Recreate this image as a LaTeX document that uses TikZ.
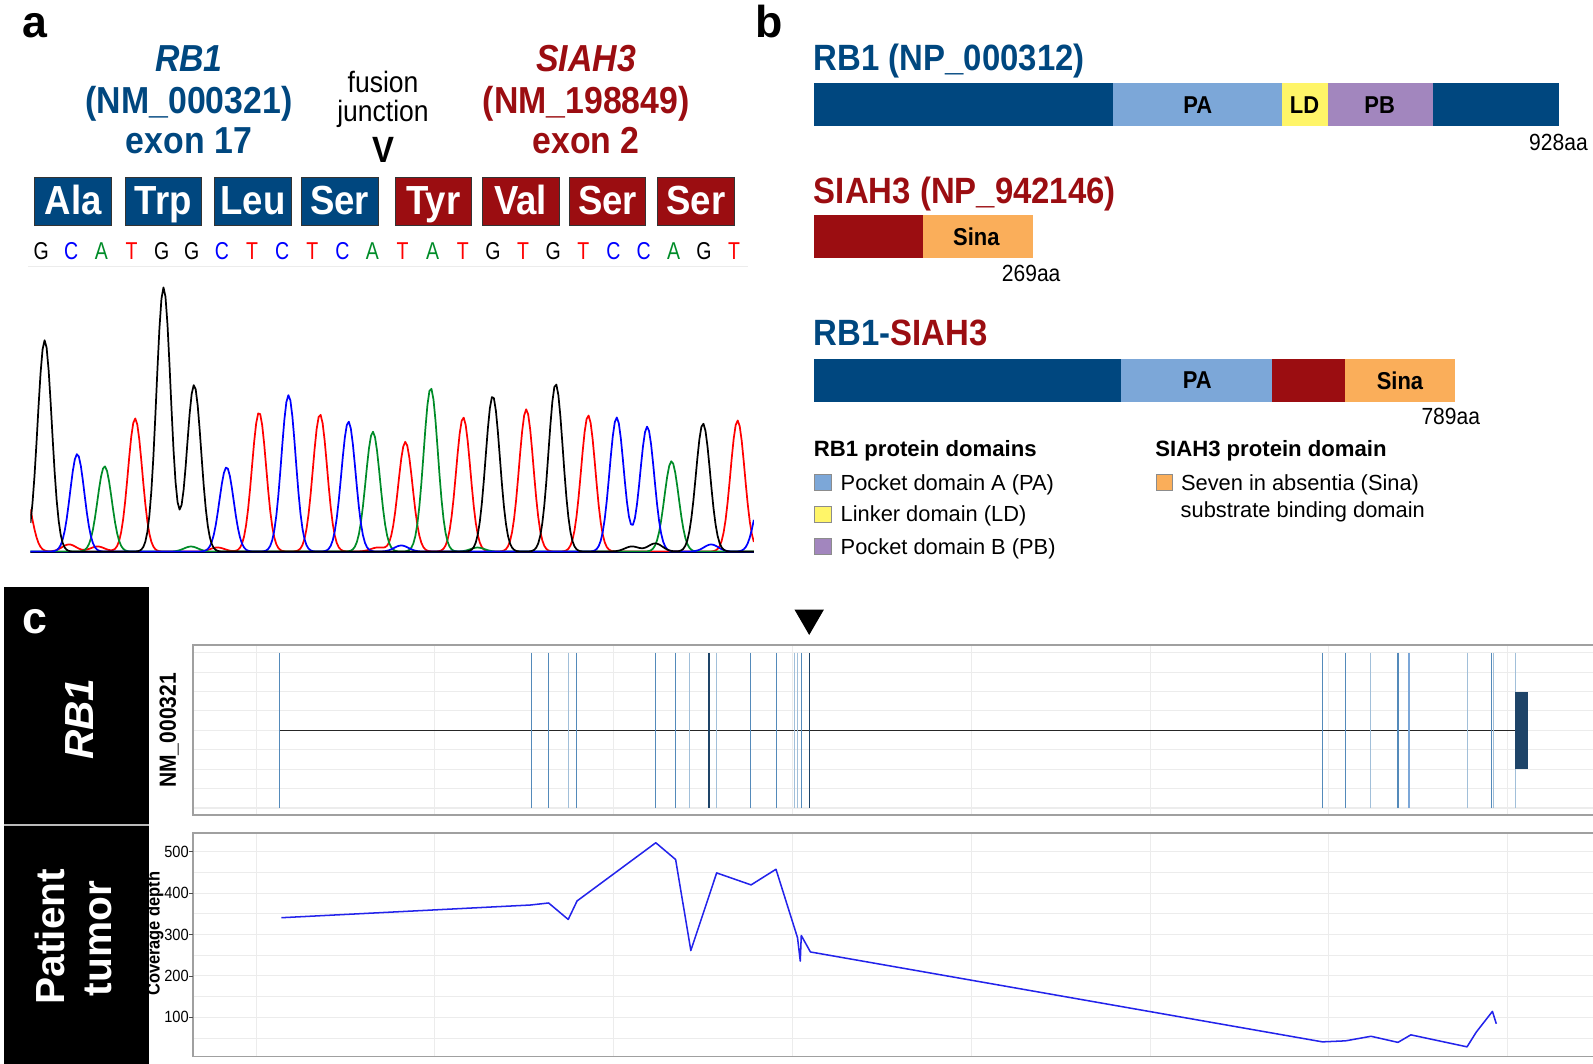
\documentclass[tikz,border=0pt]{standalone}
\usepackage{fontspec}
\setmainfont{Liberation Sans}
\newfontfamily\narrowsans[FakeStretch=0.9]{Liberation Sans}
\newfontfamily\seqsans[FakeStretch=0.8]{Liberation Sans}
\usetikzlibrary{positioning,calc}

\newcommand{\setsz}[1]{\fontsize{#1}{#1}\selectfont}

\definecolor{rbBlue}{RGB}{0,71,127}
\definecolor{siRed}{RGB}{155,13,17}
\definecolor{paBlue}{RGB}{124,167,216}
\definecolor{ldYellow}{RGB}{255,245,104}
\definecolor{pbPurple}{RGB}{162,134,190}
\definecolor{sinaOrange}{RGB}{250,174,90}
\definecolor{exonBlue}{RGB}{84,138,186}
\definecolor{exonNavy}{RGB}{30,68,104}
\definecolor{gridGray}{RGB}{236,236,236}
\definecolor{frameGray}{RGB}{160,160,160}
\definecolor{covBlue}{RGB}{35,35,235}
\definecolor{baseG}{RGB}{0,0,0}
\definecolor{baseC}{RGB}{0,0,255}
\definecolor{baseA}{RGB}{0,140,40}
\definecolor{baseT}{RGB}{255,0,0}

\tikzset{
	gtitle/.style={anchor=base, inner sep=0pt, font=\narrowsans\bfseries\setsz{37}},
	aabox/.style={draw=black!80, line width=0.8pt, minimum width=75.5pt, minimum height=47pt,
		inner sep=0pt, text=white, font=\narrowsans\bfseries\setsz{40}, text height=28pt, text depth=3pt},
	seqbase/.style={inner sep=0pt, font=\seqsans\setsz{24}},
	chrom/.style={line width=1.7pt, line join=round},
	ptitle/.style={anchor=base west, inner sep=0pt, font=\narrowsans\bfseries\setsz{36}},
	domlabel/.style={inner sep=0pt, font=\narrowsans\bfseries\setsz{24}},
	aalen/.style={anchor=base, inner sep=0pt, font=\narrowsans\setsz{23}},
	leghead/.style={anchor=base west, inner sep=0pt, font=\bfseries\setsz{21.8}},
	legsq/.style={draw=black!45, line width=0.6pt, minimum size=16pt, inner sep=0pt},
	legtext/.style={inner sep=0pt, font=\setsz{21.5}, text height=15.4pt, text depth=0pt},
	gridline/.style={gridGray, line width=1pt},
	framebox/.style={frameGray, line width=1.5pt},
	exonmid/.style={exonBlue, line width=1.1pt},
	exondark/.style={exonNavy, line width=1.3pt},
	exonlight/.style={exonBlue!55, line width=1pt},
	exonthick/.style={paBlue, line width=2.6pt},
	panellabel/.style={anchor=base, inner sep=0pt, font=\bfseries\setsz{44}},
	sidelabel/.style={anchor=base, inner sep=0pt, rotate=90, text=white, font=\bfseries\setsz{40}},
	ticklabel/.style={anchor=east, inner sep=0pt, font=\narrowsans\setsz{16}},
	declare function={pk(\u,\m,\a)=\a*exp(-min(((\u-\m)/7)^2/2,9));}
}

\begin{document}
\begin{tikzpicture}[x=1pt, y=-1pt]
	\useasboundingbox (0,0) rectangle (1568,1047);
	
	% Panel a: fusion junction sequence
	\begin{scope}
		\node[panellabel] (laba) at (34.6,37.3) {a};
		
		\node[gtitle, text=rbBlue, font=\narrowsans\bfseries\itshape\setsz{37}] (rbGene) at (186,70) {RB1};
		\node[gtitle, text=rbBlue] (rbAcc) at (186,112) {(NM\_000321)};
		\node[gtitle, text=rbBlue] (rbExon) at (186,151) {exon 17};
		
		\node[gtitle, font=\narrowsans\setsz{29}] (fuseA) at (377,91) {fusion};
		\node[gtitle, font=\narrowsans\setsz{29}] (fuseB) at (377,120) {junction};
		\node[gtitle, font=\narrowsans\bfseries\setsz{36}] (fuseV) at (377,160) {V};
		
		\node[gtitle, text=siRed, font=\narrowsans\bfseries\itshape\setsz{37}] (siGene) at (577,70) {SIAH3};
		\node[gtitle, text=siRed] (siAcc) at (577,112) {(NM\_198849)};
		\node[gtitle, text=siRed] (siExon) at (577,151) {exon 2};
		
		% Amino acids across the junction
		\foreach \cx/\aa/\col [count=\i] in {72/Ala/rbBlue, 160.7/Trp/rbBlue, 249/Leu/rbBlue, 334.4/Ser/rbBlue,
			426.5/Tyr/siRed, 512.5/Val/siRed, 598/Ser/siRed, 685/Ser/siRed}
			\node[aabox, fill=\col] (aa\i) at (\cx,198.5) {\aa};
		
		% Base calls
		\foreach \b [count=\i from 0] in {G,C,A,T,G,G,C,T,C,T,C,A,T,A,T,G,T,G,T,C,C,A,G,T}
			\node[seqbase, text=base\b] (nt\i) at ({40.5+\i*29.65},247) {\b};
		\draw[gray!15, line width=1pt] (28,262) -- (736,262);
		
		% Chromatogram traces
		\begin{scope}
			\clip (30,255) rectangle (742,548);
			\draw[chrom, draw=baseT] plot[domain=30:742, samples=360]
				(\x, {543-pk(\x,24,60)-pk(\x,68,7)-pk(\x,96,5)-pk(\x,133,131)-pk(\x,214,4)-pk(\x,255,137)
				-pk(\x,315,135)-pk(\x,372,4)-pk(\x,399,108)-pk(\x,456,132)-pk(\x,518,140)-pk(\x,579,134)-pk(\x,726,129)});
			\draw[chrom, draw=baseA] plot[domain=30:742, samples=360]
				(\x, {543-pk(\x,103,84)-pk(\x,188,5)-pk(\x,367,118)-pk(\x,424,161)-pk(\x,470,4)-pk(\x,661,89)});
			\draw[chrom, draw=baseC] plot[domain=30:742, samples=360]
				(\x, {543-pk(\x,76,96)-pk(\x,223,83)-pk(\x,284,154)-pk(\x,343,128)-pk(\x,395,6)
				-pk(\x,607,132)-pk(\x,637,123)-pk(\x,700,7)-pk(\x,750,60)});
			\draw[chrom, draw=baseG] plot[domain=30:742, samples=360]
				(\x, {543-pk(\x,44,208)-pk(\x,161,260)-pk(\x,191,164)-pk(\x,485,153)-pk(\x,547,165)
				-pk(\x,622,5)-pk(\x,645,8)-pk(\x,692,126)});
			\draw[black!70!blue, line width=1.2pt] (30,543.5) -- (742,543.5);
		\end{scope}
	\end{scope}
	
	% Panel b: protein domains
	\begin{scope}
		\node[panellabel] (labb) at (757,37.3) {b};
		
		% RB1 protein
		\node[ptitle, text=rbBlue] (rbProt) at (801,69) {RB1 (NP\_000312)};
		\foreach \xa/\xb/\col in {801/1096/rbBlue, 1096/1262/paBlue, 1262/1307/ldYellow, 1307/1410/pbPurple, 1410/1535/rbBlue}
			\fill[\col] (\xa,82) rectangle (\xb,124);
		\node[domlabel] (rbPA) at (1179,103) {PA};
		\node[domlabel] (rbLD) at (1284,103) {LD};
		\node[domlabel] (rbPB) at (1358,103) {PB};
		\node[aalen] (rbLen) at (1534,148) {928aa};
		
		% SIAH3 protein
		\node[ptitle, text=siRed] (siProt) at (801,200) {SIAH3 (NP\_942146)};
		\fill[siRed] (801,212) rectangle (908.5,254);
		\fill[sinaOrange] (908.5,212) rectangle (1016.5,254);
		\node[domlabel] (siSina) at (961,233) {Sina};
		\node[aalen] (siLen) at (1015,277) {269aa};
		
		% Fusion protein
		\node[ptitle] (fuProt) at (801,340) {\textcolor{rbBlue}{RB1-}\textcolor{siRed}{SIAH3}};
		\foreach \xa/\xb/\col in {801/1103.5/rbBlue, 1103.5/1252/paBlue, 1252/1324/siRed, 1324/1432/sinaOrange}
			\fill[\col] (\xa,353.5) rectangle (\xb,395.5);
		\node[domlabel] (fuPA) at (1178.5,374.5) {PA};
		\node[domlabel] (fuSina) at (1378,374.5) {Sina};
		\node[aalen] (fuLen) at (1428,418) {789aa};
		
		% Legend
		\node[leghead] (legRB) at (801,449) {RB1 protein domains};
		\node[leghead] (legSI) at (1137,449) {SIAH3 protein domain};
		\node[legsq, fill=paBlue] (sqPA) at (810,475) {};
		\node[legtext, right=9pt of sqPA] (txtPA) {Pocket domain A (PA)};
		\node[legsq, fill=ldYellow] (sqLD) at (810,506) {};
		\node[legtext, right=9pt of sqLD] (txtLD) {Linker domain (LD)};
		\node[legsq, fill=pbPurple] (sqPB) at (810,538) {};
		\node[legtext, right=9pt of sqPB] (txtPB) {Pocket domain B (PB)};
		\node[legsq, fill=sinaOrange] (sqSina) at (1146,475) {};
		\node[legtext, right=8pt of sqSina] (txtSina) {Seven in absentia (Sina)};
		\node[legtext, anchor=west] (txtSub) at (1162,502) {substrate binding domain};
	\end{scope}
	
	% Panel c: exon structure and coverage
	\begin{scope}
		\fill[black] (4,578) rectangle (147,1047);
		\draw[gray!55, line width=1.5pt] (4,812) -- (147,812);
		\node[panellabel, text=white] (labc) at (34,624) {c};
		\node[sidelabel, font=\bfseries\itshape\setsz{40}] (sideRB) at (92,708) {RB1};
		\node[sidelabel] (sidePat) at (63,922) {Patient};
		\node[sidelabel] (sideTum) at (110,924) {tumor};
		
		% Transcript track
		\foreach \gx in {252,428,...,1484}
			\draw[gridline] (\gx,635) -- (\gx,802);
		\foreach \k in {0,...,8}
			\draw[gridline] (190,{642.5+19.1*\k}) -- (1580,{642.5+19.1*\k});
		\draw[framebox] (1580,635) -- (190,635) -- (190,802) -- (1580,802);
		\node[rotate=90, anchor=base, inner sep=0pt, font=\narrowsans\bfseries\setsz{23}] (trName) at (173,719) {NM\_000321};
		
		\draw[black!85, line width=1.4pt] (275.5,719) -- (1491,719);
		\foreach \ex in {275.5,523,540,567.6,645.5,665,739,764,788.7,1301.7,1324.4,1376,1468}
			\draw[exonmid] (\ex,642.5) -- (\ex,795.5);
		\foreach \ex in {559.6,679,705,782,785,1348.5,1444,1470,1491.4}
			\draw[exonlight] (\ex,642.5) -- (\ex,795.5);
		\foreach \ex in {698,796.7}
			\draw[exondark] (\ex,642.5) -- (\ex,795.5);
		\draw[exonthick] (1387,642.5) -- (1387,795.5);
		\fill[exonNavy] (1491,681) rectangle (1504,757);
		
		% Fusion breakpoint marker
		\fill[black] (782,600) -- (811,600) -- (796.5,625) -- cycle;
		
		% Coverage track
		\foreach \gx in {252,428,...,1484}
			\draw[gridline] (\gx,820) -- (\gx,1040);
		\foreach \v in {50,100,...,500}
			\draw[gridline] (190,{1042.2-0.408*\v}) -- (1580,{1042.2-0.408*\v});
		\draw[framebox] (1580,820) -- (190,820) -- (190,1040) -- (1580,1040);
		\foreach \v in {100,200,...,500} {
			\draw[black!70, line width=0.8pt] (186,{1042.2-0.408*\v}) -- (190,{1042.2-0.408*\v});
			\node[ticklabel] (tick\v) at (186,{1042.2-0.408*\v}) {\v};
		}
		\node[rotate=90, anchor=base, inner sep=0pt, font=\narrowsans\bfseries\setsz{18}] (covName) at (157,919) {Coverage depth};
		
		\draw[covBlue, line width=1.5pt, line join=round] plot coordinates {
			(277,903.3) (522,890.8) (540,888.8) (559.3,905) (568,886.8) (645.5,829.5) (665,846)
			(680,935.6) (705.4,859.2) (739.3,871) (763.8,855.6) (785,923) (787.7,946) (788.7,920.8)
			(797.7,937) (1301.7,1025.5) (1324.4,1024.5) (1349.5,1020) (1376,1026) (1388.7,1018.6)
			(1444,1030.4) (1453,1016) (1469,995.5) (1472.8,1007.7)};
	\end{scope}
\end{tikzpicture}
\end{document}
